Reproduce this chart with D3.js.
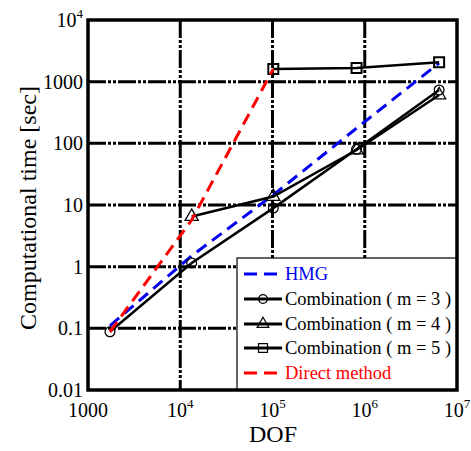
<!DOCTYPE html>
<html>
<head>
<meta charset="utf-8">
<script src="https://cdn.jsdelivr.net/npm/d3@7"></script>
<style>
  body { margin: 0; background: #fff; }
  text { font-family: "Liberation Serif", "Times New Roman", serif; }
</style>
</head>
<body>
<svg width="471" height="451"></svg>
<script>
// tick values and labels
var xTicks = [1e3, 1e4, 1e5, 1e6, 1e7];
var xTickBase = ["1000", "10", "10", "10", "10"];
var xTickExp = ["", "4", "5", "6", "7"];
var yTicks = [0.01, 0.1, 1, 10, 100, 1000, 1e4];
var yTickBase = ["0.01", "0.1", "1", "10", "100", "1000", "10"];
var yTickExp = ["", "", "", "", "", "", "4"];

// series
var hmgDof = [1730, 13300, 102000, 815000, 6400000];
var hmgTime = [0.11, 1.5, 14.6, 176, 2010];
var comb3Dof = [1730, 13300, 102000, 815000, 6400000];
var comb3Time = [0.088, 1.15, 8.9, 80, 733];
var comb4Dof = [13300, 102000, 815000, 6400000];
var comb4Time = [6.5, 13.7, 78, 608];
var comb5Dof = [102000, 815000, 6400000];
var comb5Time = [1607, 1660, 2060];
var directDof = [1730, 13300, 102000];
var directTime = [0.088, 5.7, 1607];

var legendNames = ["HMG", "Combination ( m = 3 )", "Combination ( m = 4 )", "Combination ( m = 5 )", "Direct method"];

var svg = d3.select("svg");
var pLeft = 88, pTop = 20, pRight = 457, pBottom = 390;

var x = d3.scaleLog().domain([1e3, 1e7]).range([pLeft, pRight]);
var y = d3.scaleLog().domain([0.01, 1e4]).range([pBottom, pTop]);

// grid
var gridDash = "18,2,3,2,3,2";
svg.selectAll(".gx").data(xTicks.slice(1, -1)).enter().append("line")
  .attr("x1", function(d){ return x(d); }).attr("x2", function(d){ return x(d); })
  .attr("y1", pTop).attr("y2", pBottom)
  .style("stroke", "black").style("stroke-width", 3).style("stroke-dasharray", gridDash);
svg.selectAll(".gy").data(yTicks.slice(1, -1)).enter().append("line")
  .attr("y1", function(d){ return y(d); }).attr("y2", function(d){ return y(d); })
  .attr("x1", pLeft).attr("x2", pRight)
  .style("stroke", "black").style("stroke-width", 3).style("stroke-dasharray", gridDash);

// tick labels
var xl = svg.selectAll(".xl").data(xTicks).enter().append("text")
  .attr("x", function(d){ return x(d); })
  .attr("y", pBottom + 27)
  .attr("text-anchor", "middle")
  .style("font-size", "20px");
xl.append("tspan").text(function(d, i){ return xTickBase[i]; });
xl.append("tspan").attr("dy", -9).style("font-size", "13px").text(function(d, i){ return xTickExp[i]; });

var yl = svg.selectAll(".yl").data(yTicks).enter().append("text")
  .attr("x", pLeft - 5)
  .attr("y", function(d){ return y(d) + 7; })
  .attr("text-anchor", "end")
  .style("font-size", "20px");
yl.append("tspan").text(function(d, i){ return yTickBase[i]; });
yl.append("tspan").attr("dy", -9).style("font-size", "13px").text(function(d, i){ return yTickExp[i]; });

// axis titles
svg.append("text").attr("x", 273).attr("y", 442).attr("text-anchor", "middle")
  .style("font-size", "24px").text("DOF");
svg.append("text").attr("transform", "translate(36,208) rotate(-90)").attr("text-anchor", "middle")
  .style("font-size", "24px").text("Computational time [sec]");

var line = d3.line()
  .x(function(d){ return x(d[0]); })
  .y(function(d){ return y(d[1]); });

function pairs(a, b){ return a.map(function(v, i){ return [v, b[i]]; }); }

// HMG
svg.append("path").datum(pairs(hmgDof, hmgTime)).attr("d", line)
  .style("fill", "none").style("stroke", "#0000ee").style("stroke-width", 3)
  .style("stroke-dasharray", "12,7");

var blackSeries = [
  {dof: comb3Dof, time: comb3Time, shape: d3.symbolCircle},
  {dof: comb4Dof, time: comb4Time, shape: d3.symbolTriangle},
  {dof: comb5Dof, time: comb5Time, shape: d3.symbolSquare}
];
blackSeries.forEach(function(s){
  var pts = pairs(s.dof, s.time);
  svg.append("path").datum(pts).attr("d", line)
    .style("fill", "none").style("stroke", "black").style("stroke-width", 2.5);
  svg.selectAll(null).data(pts).enter().append("path")
    .attr("d", d3.symbol().type(s.shape).size(s.shape === d3.symbolSquare ? 100 : 75))
    .attr("transform", function(d){ return "translate(" + x(d[0]) + "," + y(d[1]) + ")"; })
    .style("fill", "none").style("stroke", "black")
    .style("stroke-width", s.shape === d3.symbolSquare ? 2 : 1.3);
});

// direct method
svg.append("path").datum(pairs(directDof, directTime)).attr("d", line)
  .style("fill", "none").style("stroke", "#ff0000").style("stroke-width", 3)
  .style("stroke-dasharray", "12,7");

// legend
var lg = svg.append("g");
lg.append("rect").attr("x", 237).attr("y", 258).attr("width", 220).attr("height", 132)
  .style("fill", "white").style("stroke", "black").style("stroke-width", 1.2);
var legendY = [274, 299, 324, 348, 373];
var legendColor = ["#0000ee", "black", "black", "black", "#ff0000"];
var legendShape = [null, d3.symbolCircle, d3.symbolTriangle, d3.symbolSquare, null];
legendNames.forEach(function(name, i){
  var yy = legendY[i];
  lg.append("line").attr("x1", 244).attr("x2", 282).attr("y1", yy).attr("y2", yy)
    .style("stroke", legendColor[i]).style("stroke-width", 3)
    .style("stroke-dasharray", legendShape[i] ? null : "13,7");
  if (legendShape[i]) {
    lg.append("path").attr("d", d3.symbol().type(legendShape[i]).size(legendShape[i] === d3.symbolSquare ? 80 : 60))
      .attr("transform", "translate(263," + yy + ")")
      .style("fill", "none").style("stroke", "black").style("stroke-width", 1.2);
  }
  lg.append("text").attr("x", 285).attr("y", yy + 6)
    .style("font-size", "18.5px").style("fill", legendColor[i])
    .text(name);
});

// frame on top
svg.append("rect").attr("x", pLeft).attr("y", pTop)
  .attr("width", pRight - pLeft).attr("height", pBottom - pTop)
  .style("fill", "none").style("stroke", "black").style("stroke-width", 3.5);
</script>
</body>
</html>
